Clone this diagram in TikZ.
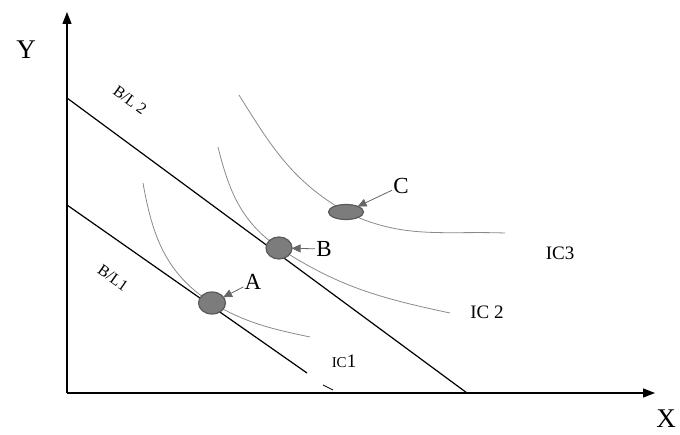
\documentclass[tikz,border=0pt]{standalone}
\usepackage{fontspec}
\setmainfont{Liberation Serif}
\usetikzlibrary{shapes.geometric,arrows.meta}
\definecolor{dotgray}{HTML}{7C7C7C}
\definecolor{curvegray}{HTML}{8A8A8A}
\begin{document}
\begin{tikzpicture}[x=1pt, y=1pt,
		axis/.style={line width=1.3pt, -{Triangle[length=12pt,width=9pt]}},
		budget/.style={line width=1.2pt},
		icurve/.style={curvegray, line width=0.8pt},
		pt/.style={ellipse, draw=black!65, line width=1.2pt, fill=dotgray, inner sep=0pt},
		ptlabel/.style={font=\fontsize{23}{23}\selectfont, inner sep=1pt},
		iclabel/.style={font=\fontsize{19}{19}\selectfont},
		bllabel/.style={font=\fontsize{16}{16}\selectfont, inner sep=0pt},
		ptarrow/.style={black!60, line width=0.8pt, -{Triangle[length=9pt,width=8pt]}, shorten >=-1pt}]
		\useasboundingbox (0,0) rectangle (680,434);

		% axes
		\coordinate (O) at (67,41);
		\coordinate (ytip) at (67,422);
		\coordinate (xtip) at (655,41);
		\draw[axis] (O) -- (ytip);
		\draw[axis] (O) -- (xtip);
		\node[font=\fontsize{27}{27}\selectfont] (ylab) at (26,384) {Y};
		\node[font=\fontsize{27}{27}\selectfont, inner sep=0pt] (xlab) at (666,15) {X};

		% budget lines
		\draw[budget] (67,336) -- (467,41);
		\draw[budget] (67,229) -- (307,61);
		\node[rotate=-36, bllabel] (bl2) at (130,334) {B/L 2};
		\node[rotate=-35, bllabel] (bl1) at (113,156) {B/L1};

		% indifference curves
		\coordinate (pA) at (212,131);
		\coordinate (pB) at (279,186);
		\coordinate (pC) at (346,222);
		\draw[icurve] (143,251) to[out=-80, in=148] (pA) to[out=-30, in=168] (310,97);
		\draw[icurve] (218,287) to[out=-76, in=145] (pB) to[out=-33, in=168] (450,121);
		\draw[icurve] (239,339) to[out=-58, in=150] (pC) to[out=-26, in=178] (505,201);
		\draw[line width=0.8pt] (323,49) -- (333,44);

		\node[iclabel] (ic1) at (344,73) {{\fontsize{15}{15}\selectfont IC}1};
		\node[iclabel] (ic2) at (487,122) {IC 2};
		\node[iclabel] (ic3) at (560,181) {IC3};

		% points
		\node[pt, minimum width=27pt, minimum height=22pt] (A) at (pA) {};
		\node[pt, minimum width=26pt, minimum height=22pt] (B) at (pB) {};
		\node[pt, minimum width=35pt, minimum height=15pt] (C) at (pC) {};

		\node[ptlabel] (lA) at (253,152) {A};
		\node[ptlabel] (lB) at (324,185) {B};
		\node[ptlabel] (lC) at (401,248) {C};

		\draw[ptarrow] (lA) -- (A);
		\draw[ptarrow] (lB) -- (B);
		\draw[ptarrow] (lC) -- (C);
	\end{tikzpicture}
\end{document}
